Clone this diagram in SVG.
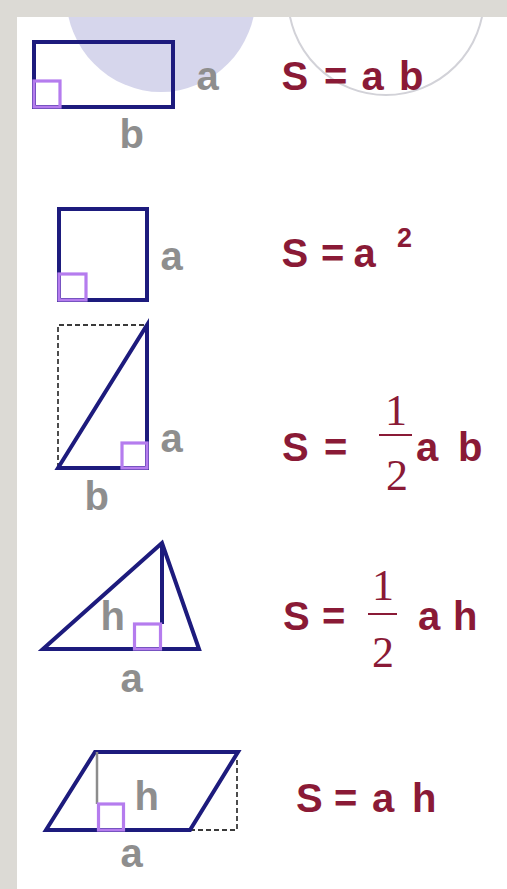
<svg xmlns="http://www.w3.org/2000/svg" width="507" height="889" viewBox="0 0 507 889">
<style>
.shape{fill:none;stroke:#1d1b7d;stroke-width:4;stroke-linejoin:miter}
.ra{fill:none;stroke:#b57cee;stroke-width:3.2}
.dash{fill:none;stroke:#3a3a3a;stroke-width:1.8;stroke-dasharray:5 3}
.lbl{font-family:"Liberation Sans",Arial,sans-serif;font-weight:bold;font-size:40px;fill:#8e8e8e}
.f{font-family:"Liberation Sans",Arial,sans-serif;font-weight:bold;font-size:40px;fill:#8a1a36}
.sup{font-family:"Liberation Sans",Arial,sans-serif;font-weight:bold;font-size:27px;fill:#8a1a36}
.fr{font-family:"Liberation Serif","Times New Roman",serif;font-size:44px;fill:#8a1a36;text-anchor:middle}
.bar{stroke:#8a1a36;stroke-width:2}
</style>
<defs>
<clipPath id="panel"><rect x="17" y="17" width="490" height="872"/></clipPath>
</defs>
<rect x="0" y="0" width="507" height="889" fill="#dcdad5"/>
<rect x="17" y="17" width="490" height="872" fill="#ffffff"/>
<g id="decor" clip-path="url(#panel)">
<ellipse cx="161" cy="-5" rx="95" ry="97" fill="#d6d6ec"/>
<circle cx="386" cy="-3" r="98" fill="none" stroke="#d2d2d8" stroke-width="2"/>
</g>
<g id="rectangle">
<rect class="shape" x="34" y="42" width="139" height="65"/>
<rect class="ra" x="34" y="81" width="26" height="26"/>
<text class="lbl" x="196.5" y="90">a</text>
<text class="lbl" x="119.5" y="148">b</text>
<text class="f" y="90"><tspan x="281.5">S</tspan><tspan x="324">=</tspan><tspan x="361.5">a</tspan><tspan x="399">b</tspan></text>
</g>
<g id="square">
<rect class="shape" x="59" y="209" width="88" height="91"/>
<rect class="ra" x="59" y="274" width="27" height="26"/>
<text class="lbl" x="160.5" y="270">a</text>
<text class="f" y="267"><tspan x="281.5">S</tspan><tspan x="321">=</tspan><tspan x="353.5">a</tspan></text>
<text class="sup" x="397" y="247">2</text>
</g>
<g id="right-triangle">
<polyline class="dash" points="58,468 58,325 146,325"/>
<polygon class="shape" points="58,468 147,325 147,468"/>
<rect class="ra" x="122" y="443" width="25" height="25"/>
<text class="lbl" x="160.5" y="452">a</text>
<text class="lbl" x="84.5" y="510">b</text>
<text class="f" y="461"><tspan x="282">S</tspan><tspan x="324">=</tspan></text>
<text class="fr" x="396" y="425">1</text>
<line class="bar" x1="379" y1="435" x2="412" y2="435"/>
<text class="fr" x="397" y="490">2</text>
<text class="f" y="461"><tspan x="416">a</tspan><tspan x="458">b</tspan></text>
</g>
<g id="triangle">
<polygon class="shape" points="43,649 162,543 199,649"/>
<line class="shape" x1="162" y1="543" x2="162" y2="624"/>
<rect class="ra" x="134.5" y="624" width="26" height="25"/>
<text class="lbl" x="100.5" y="630">h</text>
<text class="lbl" x="120.5" y="692">a</text>
<text class="f" y="630"><tspan x="283">S</tspan><tspan x="322">=</tspan></text>
<text class="fr" x="383" y="600">1</text>
<line class="bar" x1="368" y1="614" x2="397" y2="614"/>
<text class="fr" x="383" y="667">2</text>
<text class="f" y="630"><tspan x="418">a</tspan><tspan x="453">h</tspan></text>
</g>
<g id="parallelogram">
<polyline class="dash" points="190,830 237,830 237,757"/>
<polygon class="shape" points="46,830 95,752 238,752 190,830"/>
<line x1="97" y1="752" x2="97" y2="804" stroke="#8c8c8c" stroke-width="2.5"/>
<rect class="ra" x="98.5" y="804" width="25" height="26"/>
<text class="lbl" x="134.5" y="810">h</text>
<text class="lbl" x="120.5" y="867">a</text>
<text class="f" y="812"><tspan x="296">S</tspan><tspan x="334">=</tspan><tspan x="372">a</tspan><tspan x="412">h</tspan></text>
</g>
</svg>
